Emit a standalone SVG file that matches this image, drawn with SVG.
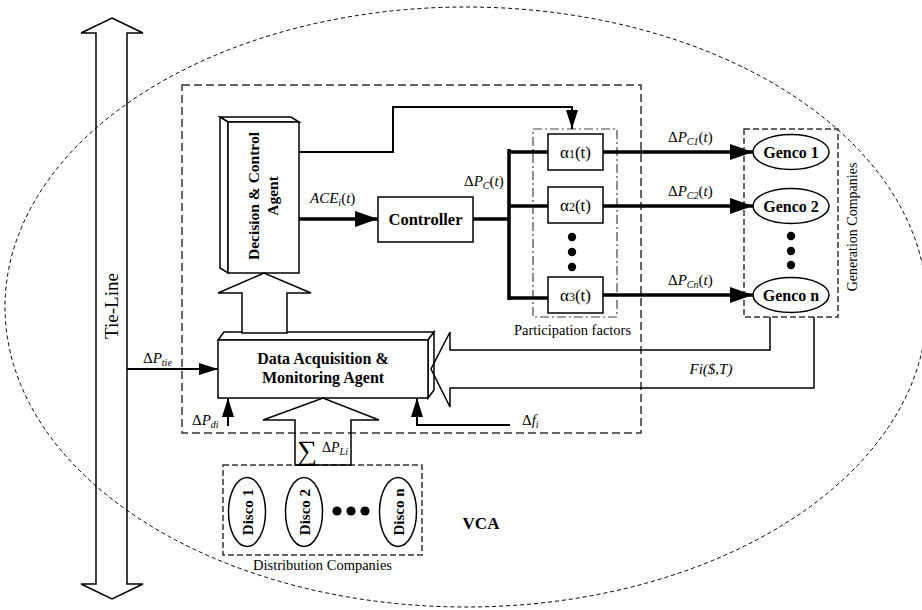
<svg xmlns="http://www.w3.org/2000/svg" width="922" height="610" viewBox="0 0 922 610" font-family="'Liberation Serif', 'Times New Roman', serif">
<style>
text{font-family:'Liberation Serif','Times New Roman',serif;fill:#000}
.b{font-weight:bold}
.i{font-style:italic}
.box{fill:#fff;stroke:#000;stroke-width:1.5}
.hol{fill:none;stroke:#000;stroke-width:1.5;stroke-linejoin:miter}
.dash{fill:none;stroke:#333;stroke-width:1.5;stroke-dasharray:8,4}
.dash2{fill:none;stroke:#333;stroke-width:1.5;stroke-dasharray:6,3}
.dd{fill:none;stroke:#444;stroke-width:1.2;stroke-dasharray:9,3,2,3}
.thin{fill:none;stroke:#000;stroke-width:2}
.thick{fill:none;stroke:#000;stroke-width:3.5}
</style>
<defs>
<marker id="ah" markerUnits="userSpaceOnUse" markerWidth="23" markerHeight="16" refX="23" refY="8" orient="auto"><path d="M0,0 L23,8 L0,16 z" fill="#000"/></marker>
<marker id="as" markerUnits="userSpaceOnUse" markerWidth="19" markerHeight="12" refX="19" refY="6" orient="auto"><path d="M0,0 L19,6 L0,12 z" fill="#000"/></marker>
</defs>

<g id="tie-line">
<polygon class="hol" points="112,18 143,33 127,33 127,584 143,584 112,599 81,584 96,584 96,33 81,33"/>
<text transform="translate(118,306) rotate(-90)" text-anchor="middle" font-size="19">Tie-Line</text>
</g>

<g id="vca">
<ellipse cx="466" cy="307" rx="461" ry="300" fill="none" stroke="#000" stroke-width="1" stroke-dasharray="4,3"/>
<text class="b" x="481" y="529" text-anchor="middle" font-size="17">VCA</text>
</g>

<g id="agent-region">
<rect class="dash" x="182" y="85" width="459" height="348"/>
</g>

<g id="decision-agent">
<polygon class="box" points="220,117 291,117 299,122 228,122"/>
<polygon class="box" points="220,117 228,122 228,273 220,268"/>
<rect class="box" x="228" y="122" width="71" height="151"/>
<text class="b" transform="translate(259,196) rotate(-90)" text-anchor="middle" font-size="15.5">Decision &amp; Control</text>
<text class="b" transform="translate(278,196) rotate(-90)" text-anchor="middle" font-size="15.5">Agent</text>
</g>

<g id="data-agent">
<polygon class="box" points="218,340 224,332 434,332 428,340"/>
<polygon class="box" points="428,340 434,332 434,390 428,398"/>
<rect class="box" x="218" y="340" width="210" height="58"/>
<text class="b" x="323" y="364" text-anchor="middle" font-size="16">Data Acquisition &amp;</text>
<text class="b" x="323" y="383" text-anchor="middle" font-size="16">Monitoring Agent</text>
</g>

<g id="controller">
<rect class="box" x="378" y="197" width="95" height="45"/>
<text class="b" x="425.5" y="225" text-anchor="middle" font-size="16.5">Controller</text>
</g>

<g id="participation">
<rect class="dd" x="533" y="129" width="84" height="188"/>
<rect class="box" x="548" y="134" width="55" height="36"/>
<text x="575.5" y="158" text-anchor="middle" font-size="17">α<tspan font-size="12">1</tspan>(t)</text>
<rect class="box" x="548" y="187" width="55" height="36"/>
<text x="575.5" y="211" text-anchor="middle" font-size="17">α<tspan font-size="12">2</tspan>(t)</text>
<rect class="box" x="548" y="277" width="55" height="36"/>
<text x="575.5" y="301" text-anchor="middle" font-size="17">α<tspan font-size="12">3</tspan>(t)</text>
<circle cx="572" cy="237" r="4.2"/>
<circle cx="572" cy="252" r="4.2"/>
<circle cx="572" cy="267" r="4.2"/>
<text x="572.5" y="335" text-anchor="middle" font-size="14.5">Participation factors</text>
</g>

<g id="gencos">
<rect class="dash2" x="744" y="129" width="94" height="188"/>
<ellipse class="box" cx="791" cy="152" rx="38" ry="17.5"/>
<text class="b" x="791" y="158" text-anchor="middle" font-size="16">Genco 1</text>
<ellipse class="box" cx="791" cy="206" rx="38" ry="17.5"/>
<text class="b" x="791" y="212" text-anchor="middle" font-size="16">Genco 2</text>
<ellipse class="box" cx="791" cy="295" rx="38" ry="17.5"/>
<text class="b" x="791" y="301" text-anchor="middle" font-size="16">Genco n</text>
<circle cx="791" cy="236" r="4.2"/>
<circle cx="791" cy="251" r="4.2"/>
<circle cx="791" cy="265" r="4.2"/>
<text transform="translate(857,227) rotate(-90)" text-anchor="middle" font-size="14">Generation Companies</text>
</g>

<g id="discos">
<rect class="dash2" x="223" y="465" width="199" height="90"/>
<ellipse class="box" cx="247" cy="512" rx="18.5" ry="34.5"/>
<text class="b" transform="translate(253,512) rotate(-90)" text-anchor="middle" font-size="15">Disco 1</text>
<ellipse class="box" cx="304" cy="512" rx="18.5" ry="34.5"/>
<text class="b" transform="translate(310,512) rotate(-90)" text-anchor="middle" font-size="15">Disco 2</text>
<ellipse class="box" cx="398" cy="512" rx="18.5" ry="34.5"/>
<text class="b" transform="translate(404,512) rotate(-90)" text-anchor="middle" font-size="15">Disco n</text>
<circle cx="337" cy="511" r="4.6"/>
<circle cx="351" cy="511" r="4.6"/>
<circle cx="365" cy="511" r="4.6"/>
<text x="322.5" y="570" text-anchor="middle" font-size="14.5">Distribution Companies</text>
</g>

<g id="connectors">
<polygon class="box" points="242,333 242,293 218,293 264,273 311,293 287,293 287,333"/>
<polygon class="hol" points="295,465 295,420 263,420 323,398 379,420 351,420 351,465"/>
<text x="297" y="460" font-size="28">∑</text>
<text x="322" y="452" font-size="14">Δ<tspan class="i">P</tspan><tspan class="i" font-size="10" dy="3">Li</tspan></text>
<polyline class="hol" points="770,317 770,350 450,350 450,332 431,369 450,407 450,388 814,388 814,317"/>
<text class="i" x="711" y="374" text-anchor="middle" font-size="15">Fi($,T)</text>
<line class="thin" x1="127" y1="369" x2="218" y2="369" marker-end="url(#as)"/>
<text x="143" y="363" font-size="15">Δ<tspan class="i">P</tspan><tspan class="i" font-size="10" dy="3">tie</tspan></text>
<line class="thin" x1="228" y1="426" x2="228" y2="398" stroke-width="2.5" marker-end="url(#as)"/>
<text x="192" y="425" font-size="15">Δ<tspan class="i">P</tspan><tspan class="i" font-size="10" dy="3">di</tspan></text>
<polyline class="thin" points="510,425 417,425 417,398" stroke-width="2.5" marker-end="url(#as)"/>
<text x="522" y="425" font-size="15">Δ<tspan class="i">f</tspan><tspan class="i" font-size="10" dy="3">i</tspan></text>
<polyline class="thin" points="299,152 393,152 393,107 572,107 572,129" marker-end="url(#as)"/>
<line class="thick" x1="299" y1="219" x2="378" y2="219" marker-end="url(#ah)"/>
<text x="310" y="203" font-size="15"><tspan class="i">ACE</tspan><tspan class="i" font-size="10" dy="3">i</tspan><tspan dy="-3">(</tspan><tspan class="i">t</tspan>)</text>
<line class="thick" x1="473" y1="219" x2="509" y2="219"/>
<line class="thick" x1="509" y1="149" x2="509" y2="300" stroke-width="4"/>
<line class="thick" x1="509" y1="152" x2="548" y2="152"/>
<line class="thick" x1="509" y1="206" x2="548" y2="206"/>
<line class="thick" x1="509" y1="298" x2="548" y2="298"/>
<text x="464" y="186" font-size="15">Δ<tspan class="i">P</tspan><tspan class="i" font-size="10" dy="3">C</tspan><tspan dy="-3">(</tspan><tspan class="i">t</tspan>)</text>
<line class="thick" x1="603" y1="152" x2="753" y2="152" marker-end="url(#ah)"/>
<line class="thick" x1="603" y1="206" x2="753" y2="206" marker-end="url(#ah)"/>
<line class="thick" x1="603" y1="295" x2="753" y2="295" marker-end="url(#ah)"/>
<text x="668" y="142" font-size="15">Δ<tspan class="i">P</tspan><tspan class="i" font-size="10" dy="3">C1</tspan><tspan dy="-3">(</tspan><tspan class="i">t</tspan>)</text>
<text x="668" y="196" font-size="15">Δ<tspan class="i">P</tspan><tspan class="i" font-size="10" dy="3">C2</tspan><tspan dy="-3">(</tspan><tspan class="i">t</tspan>)</text>
<text x="668" y="285" font-size="15">Δ<tspan class="i">P</tspan><tspan class="i" font-size="10" dy="3">Cn</tspan><tspan dy="-3">(</tspan><tspan class="i">t</tspan>)</text>
</g>
</svg>
